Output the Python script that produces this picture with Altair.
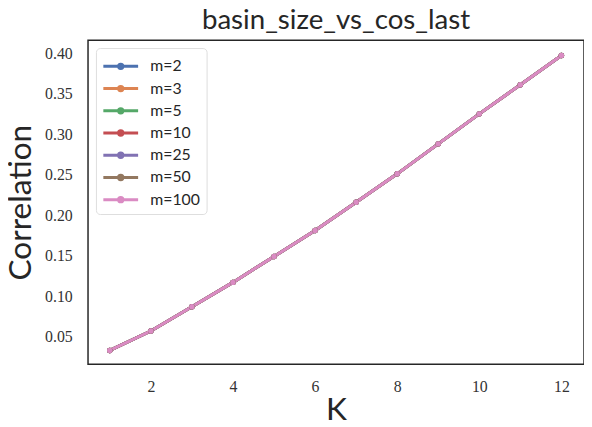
import altair as alt
import pandas as pd

K = [1, 2, 3, 4, 5, 6, 7, 8, 9, 10, 11, 12]
m_labels = ["m=2", "m=3", "m=5", "m=10", "m=25", "m=50", "m=100"]
colors = ["#4C72B0", "#DD8452", "#55A868", "#C44E52", "#8172B3", "#937860", "#DA8BC3"]

corr_m2 = [0.033, 0.057, 0.087, 0.117, 0.149, 0.181, 0.216, 0.251, 0.288, 0.325, 0.361, 0.397]
corr_m3 = [0.033, 0.057, 0.087, 0.117, 0.149, 0.181, 0.216, 0.251, 0.288, 0.325, 0.361, 0.397]
corr_m5 = [0.033, 0.057, 0.087, 0.117, 0.149, 0.181, 0.216, 0.251, 0.288, 0.325, 0.361, 0.397]
corr_m10 = [0.033, 0.057, 0.087, 0.117, 0.149, 0.181, 0.216, 0.251, 0.288, 0.325, 0.361, 0.397]
corr_m25 = [0.033, 0.057, 0.087, 0.117, 0.149, 0.181, 0.216, 0.251, 0.288, 0.325, 0.361, 0.397]
corr_m50 = [0.033, 0.057, 0.087, 0.117, 0.149, 0.181, 0.216, 0.251, 0.288, 0.325, 0.361, 0.397]
corr_m100 = [0.033, 0.057, 0.087, 0.117, 0.149, 0.181, 0.216, 0.251, 0.288, 0.325, 0.361, 0.397]

series = [corr_m2, corr_m3, corr_m5, corr_m10, corr_m25, corr_m50, corr_m100]
rows = []
for lab, vals in zip(m_labels, series):
    for k, v in zip(K, vals):
        rows.append({"K": k, "Correlation": v, "m": lab})
df = pd.DataFrame(rows)

symbol_path = "M-1,0L2.2,0M0.4,0A0.2,0.2 0 1,1 0.8,0A0.2,0.2 0 1,1 0.4,0"

chart = alt.Chart(df).mark_line(
    strokeWidth=3,
    point=alt.OverlayMarkDef(filled=True, size=30, opacity=1),
).encode(
    x=alt.X("K:Q", title="K",
            scale=alt.Scale(domain=[0.47, 12.55], nice=False, zero=False),
            axis=alt.Axis(values=[2, 4, 6, 8, 10, 12], grid=False, ticks=False,
                          labelPadding=15, titlePadding=0, domain=False)),
    y=alt.Y("Correlation:Q", title="Correlation",
            scale=alt.Scale(domain=[0.016, 0.416], nice=False, zero=False),
            axis=alt.Axis(values=[0.05, 0.10, 0.15, 0.20, 0.25, 0.30, 0.35, 0.40],
                          format=".2f", grid=False, ticks=False,
                          labelPadding=16, titlePadding=7, domain=False)),
    color=alt.Color("m:N", sort=m_labels,
                    scale=alt.Scale(domain=m_labels, range=colors),
                    legend=alt.Legend(title=None, orient="top-left", offset=8,
                                      symbolType=symbol_path, symbolSize=484,
                                      symbolStrokeWidth=3, rowPadding=1.5,
                                      labelOffset=24,
                                      labelFontSize=16, labelFont="Lato",
                                      labelColor="#262626",
                                      padding=6, strokeColor="#dddddd",
                                      cornerRadius=4, fillColor="white")),
).properties(
    width=502, height=328,
    title=alt.TitleParams("basin_size_vs_cos_last", fontSize=28, font="Lato",
                          fontWeight="normal", color="#262626", offset=5),
    autosize=alt.AutoSizeParams(type="none"),
    padding={"left": 81, "top": 30, "right": 0, "bottom": 60},
    background="white",
).configure_view(
    stroke="#262626", strokeWidth=1.5
).configure_axis(
    labelFont="Liberation Serif", labelFontSize=16, labelColor="#333333",
    titleFont="Lato", titleFontSize=32, titleFontWeight="normal", titleColor="#262626",
)

chart.save("out.html", embed_options={"renderer": "svg", "actions": False})
